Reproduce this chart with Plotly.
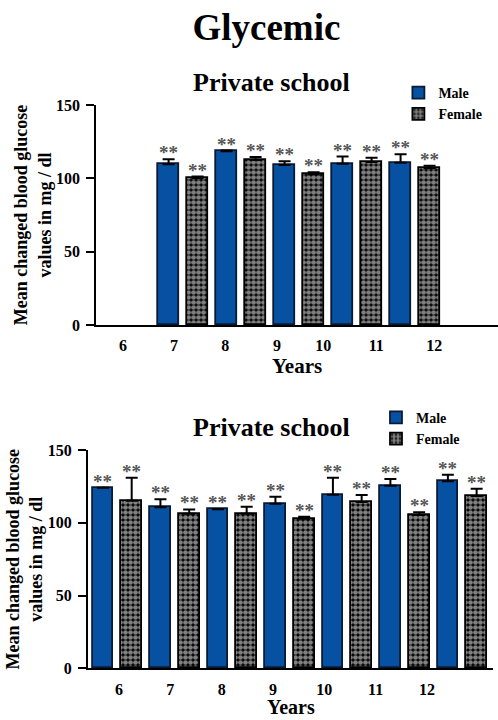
import plotly.graph_objects as go

# Mean changed blood glucose (mg/dl) by age, private school
top_years = [7, 8, 9, 10, 11]
top_male = [109.6, 118.4, 109.1, 110.0, 110.7]
top_male_err = [3.4, 0.5, 2.5, 4.8, 5.7]
top_female = [100.2, 112.5, 102.7, 111.1, 107.0]
top_female_err = [1.0, 2.0, 1.5, 3.0, 1.5]

bot_years = [6, 7, 8, 9, 10, 11, 12]
bot_male = [124.1, 110.6, 109.3, 113.1, 119.3, 125.5, 128.5]
bot_male_err = [0.0, 5.5, 0.0, 4.8, 11.7, 4.6, 4.5]
bot_female = [115.2, 106.2, 106.2, 102.8, 114.3, 105.3, 118.4]
bot_female_err = [15.8, 3.0, 4.8, 1.4, 4.8, 1.9, 5.0]

year_ticks = ["6", "7", "8", "9", "10", "11", "12"]
signif = "**"

SERIF = "Liberation Serif"
BLUE = "#0651a2"

fig = go.Figure()


def slot(year, female):
    # each year occupies two consecutive bar slots starting at age 6
    return 2 * (year - 6) + (1 if female else 0)


def add_panel(years, male, male_err, female, female_err, xa, ya, legend, show):
    xm = [slot(y, False) for y in years]
    xf = [slot(y, True) for y in years]
    fig.add_trace(go.Bar(
        x=xm, y=male, name="Male", xaxis=xa, yaxis=ya, legend=legend,
        width=0.72, showlegend=show,
        marker=dict(color=BLUE, line=dict(color="#0b1a33", width=1.8)),
        error_y=dict(type="data", array=male_err, arrayminus=[0] * len(male_err),
                     symmetric=False, color="black", thickness=2, width=6),
    ))
    fig.add_trace(go.Bar(
        x=xf, y=female, name="Female", xaxis=xa, yaxis=ya, legend=legend,
        width=0.72, showlegend=show,
        marker=dict(color="black", line=dict(color="black", width=1.8),
                    pattern=dict(shape=".", fgcolor="white", bgcolor="black",
                                 size=5, solidity=0.7)),
        error_y=dict(type="data", array=female_err, arrayminus=[0] * len(female_err),
                     symmetric=False, color="black", thickness=2, width=6),
    ))
    for xs, vals, errs in ((xm, male, male_err), (xf, female, female_err)):
        for x, v, e in zip(xs, vals, errs):
            fig.add_annotation(
                x=x, y=v + e, xref=xa, yref=ya, text=signif, showarrow=False,
                yanchor="bottom", yshift=-6,
                font=dict(family=SERIF, size=19, color="#555555", weight="bold"),
            )


add_panel(top_years, top_male, top_male_err, top_female, top_female_err,
          "x", "y", "legend", True)
add_panel(bot_years, bot_male, bot_male_err, bot_female, bot_female_err,
          "x2", "y2", "legend2", True)

tick_font = dict(family=SERIF, size=16, color="black", weight="bold")
title_font = dict(family=SERIF, size=18, color="black", weight="bold")
years_font = dict(family=SERIF, size=21, color="black", weight="bold")

top_tickvals = [0.43, 2.19, 3.95, 5.74, 7.33, 9.16, 11.16]
bot_tickvals = [0.56 + 1.785 * k for k in range(len(year_ticks))]

common_x = dict(showline=True, linecolor="black", linewidth=2, ticks="",
                showgrid=False, zeroline=False, tickfont=tick_font,
                ticklabelstandoff=5, ticktext=year_ticks, automargin=False)
common_y = dict(showline=True, linecolor="black", linewidth=2, ticks="outside",
                ticklen=8, tickwidth=2, tickcolor="black", showgrid=False,
                zeroline=False, range=[0, 150], tickvals=[0, 50, 100, 150],
                tickfont=tick_font, ticklabelstandoff=3, automargin=False,
                title=dict(text="Mean changed blood glucose<br>values in mg / dl",
                           font=title_font, standoff=0))

fig.update_layout(
    width=498, height=720,
    margin=dict(l=0, r=0, t=0, b=0),
    paper_bgcolor="white", plot_bgcolor="white",
    bargap=0, barmode="overlay",
    title=dict(text="Glycemic", x=0.535, xanchor="center", y=0.962, yanchor="middle",
               font=dict(family=SERIF, size=37, color="black", weight="bold")),
    xaxis=dict(domain=[0.193, 1.0], range=[-0.5, 13.36], tickvals=top_tickvals,
               anchor="y", title=dict(text="Years", font=years_font, standoff=3),
               **common_x),
    yaxis=dict(domain=[0.5486, 0.8542], anchor="x", **common_y),
    xaxis2=dict(domain=[0.1767, 0.99], range=[-0.52, 13.57], tickvals=bot_tickvals,
                anchor="y2", **common_x),
    yaxis2=dict(domain=[0.0718, 0.375], anchor="x2", **common_y),
    legend=dict(x=0.80, y=0.893, xanchor="left", yanchor="top",
                font=dict(family=SERIF, size=14, color="black", weight="bold"),
                bgcolor="rgba(0,0,0,0)", tracegroupgap=0, itemwidth=30),
    legend2=dict(x=0.755, y=0.442, xanchor="left", yanchor="top",
                 font=dict(family=SERIF, size=14, color="black", weight="bold"),
                 bgcolor="rgba(0,0,0,0)", tracegroupgap=0, itemwidth=30),
    showlegend=True,
)

# lower panel's x-axis title sits right at the page edge
fig.add_annotation(
    text="Years", xref="x2 domain", yref="paper", x=0.5, y=1 - 707 / 720,
    showarrow=False, xanchor="center", yanchor="middle",
    font=dict(family=SERIF, size=20, color="black", weight="bold"),
)

for ytxt in (1 - 82 / 720, 1 - 427 / 720):
    fig.add_annotation(
        text="Private school", xref="paper", yref="paper", x=0.545, y=ytxt,
        showarrow=False, xanchor="center", yanchor="middle",
        font=dict(family=SERIF, size=26, color="black", weight="bold"),
    )

fig.write_html("out.html")
